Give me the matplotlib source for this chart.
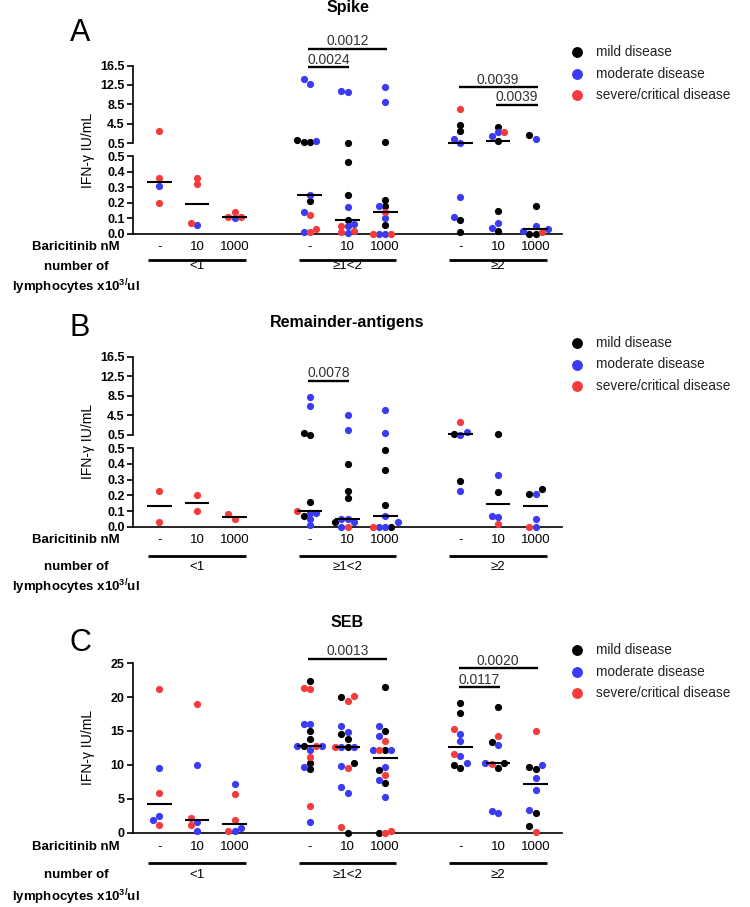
import numpy as np
import matplotlib
matplotlib.use('Agg')
import matplotlib.pyplot as plt
from matplotlib.lines import Line2D
from matplotlib.transforms import blended_transform_factory

plt.rcParams['font.family'] = ['Liberation Sans', 'DejaVu Sans']
plt.rcParams['mathtext.fontset'] = 'custom'
plt.rcParams['mathtext.rm'] = 'Liberation Sans'
plt.rcParams['mathtext.bf'] = 'Liberation Sans:bold'

# ---- data ----
doses = ['-', '10', '1000']
groups = ['<1', '\u22651<2', '\u22652']
xpos = [0, 1, 2, 4, 5, 6, 8, 9, 10]
severity = ['mild disease', 'moderate disease', 'severe/critical disease']
sev_codes = ['k', 'b', 'r']
colors = {'k': '#000000', 'b': '#3b3bf4', 'r': '#f43c3c'}

# Spike (IFN-g IU/mL), one list per column, colour code per point
spike_vals = [
    [3.0, 0.36, 0.31, 0.20],
    [0.32, 0.36, 0.06, 0.07],
    [0.10, 0.14, 0.11, 0.11],
    [13.7, 12.6, 0.65, 0.65, 0.9, 1.1, 0.25, 0.21, 0.14, 0.12, 0.015, 0.03, 0.01],
    [11.0, 11.2, 0.55, 0.46, 0.25, 0.17, 0.09, 0.05, 0.05, 0.065, 0.005, 0.01, 0.02],
    [12.1, 9.0, 0.65, 0.22, 0.18, 0.18, 0.14, 0.10, 0.06, 0.0, 0.0, 0.0, 0.0],
    [7.5, 4.2, 3.0, 1.4, 0.56, 0.24, 0.11, 0.09, 0.01],
    [3.9, 2.0, 2.7, 2.7, 0.85, 0.15, 0.07, 0.04, 0.02],
    [2.2, 1.4, 0.18, 0.05, 0.03, 0.02, 0.01, 0.0, 0.0],
]
spike_sev = ['rrbr', 'rrbr', 'brrr', 'bbkkbkbkbrbrr', 'bbkkkbkbrbbrr',
             'bbkkkbrbkbbrr', 'rkkbbbbkk', 'kbbrkkbbk', 'kbkbbbrkk']
spike_p = ['0.0012', '0.0024', '0.0039', '0.0039']
spike_pairs = [(3, 5), (3, 4), (6, 8), (7, 8)]
spike_p_y = [19.9, 16.1, 12.0, 8.35]

remainder_vals = [
    [0.23, 0.03],
    [0.20, 0.10],
    [0.05, 0.08],
    [8.2, 6.5, 0.85, 0.6, 0.155, 0.09, 0.10, 0.085, 0.07, 0.05, 0.01],
    [4.6, 1.5, 0.40, 0.23, 0.18, 0.05, 0.03, 0.05, 0.03, 0.0, 0.0],
    [5.7, 1.0, 0.49, 0.36, 0.14, 0.07, 0.03, 0.0, 0.0, 0.0, 0.0],
    [3.1, 1.2, 0.7, 0.55, 0.29, 0.23],
    [0.7, 0.33, 0.22, 0.07, 0.06, 0.02],
    [0.24, 0.21, 0.21, 0.05, 0.0, 0.0],
]
remainder_sev = ['rr', 'rr', 'rr', 'bbkkkbrbkbb', 'bbkkkbbbkrb', 'bbkkkbbbbkr',
                 'rbkbkb', 'kbkbbr', 'kbkbbr']
remainder_p = ['0.0078']
remainder_pairs = [(3, 4)]
remainder_p_y = [11.5]

seb_vals = [
    [21.15, 9.55, 5.9, 2.5, 1.8, 1.1],
    [19.0, 9.95, 2.2, 1.5, 1.1, 0.25],
    [7.1, 5.7, 1.8, 0.6, 0.25, 0.25],
    [22.4, 21.4, 21.2, 16.0, 16.0, 15.0, 13.8, 12.8, 12.8, 12.8, 12.8, 12.2, 11.2,
     10.3, 9.7, 9.4, 3.9, 1.6],
    [20.1, 20.0, 19.4, 15.7, 14.9, 14.5, 13.75, 12.7, 12.7, 12.7, 12.7, 10.3, 9.8,
     9.55, 6.65, 5.85, 0.75, 0.0],
    [21.5, 15.7, 15.0, 14.25, 13.55, 12.2, 12.2, 12.2, 12.2, 9.7, 9.2, 8.5, 7.75,
     7.25, 5.3, 0.25, 0.0, 0.0],
    [19.2, 17.7, 15.3, 14.5, 13.55, 11.6, 11.3, 10.2, 10.0, 9.6],
    [18.6, 14.25, 13.4, 12.9, 10.1, 10.2, 10.2, 9.5, 3.2, 2.9],
    [15.0, 9.35, 9.7, 9.95, 8.0, 6.25, 3.3, 2.9, 0.93, 0.1],
]
seb_sev = ['rbrbbr', 'rbrbrb', 'brrbbr', 'krrbbkkkrbbbrkbkrb', 'rkrbbkkkbbrkbrbbrk',
           'kbkbrkrbbbkrbkbrrk', 'kkrbbrbbkk', 'krkbrkbkbb', 'rkkbbbbkkr']
seb_p = ['0.0013', '0.0020', '0.0117']
seb_pairs = [(3, 5), (6, 8), (6, 7)]
seb_p_y = [25.7, 24.25, 21.45]

# ---- figure ----
W, H = 750, 907
fig = plt.figure(figsize=(7.5, 9.07), dpi=100)
fig.patch.set_facecolor('white')


def fx(px):
    return px / W


def fy(px):
    return 1 - px / H


def make_ax(top, bottom):
    ax = fig.add_axes([fx(133), fy(bottom), (562 - 133) / W, (bottom - top) / H])
    ax.set_xlim(-0.7, 10.7)
    ax.set_facecolor('none')
    for s in ['top', 'right']:
        ax.spines[s].set_visible(False)
    ax.spines['left'].set_linewidth(1.2)
    ax.spines['bottom'].set_linewidth(1.2)
    ax.set_xticks([])
    ax.tick_params(axis='y', direction='out', length=4, width=1.2, pad=2)
    return ax


def swarm(pick_ax, vals, x0, d=6.3):
    placed = []
    xs = np.zeros(len(vals))
    for i in np.argsort(vals, kind='stable'):
        ax = pick_ax(vals[i])
        xd, yd = ax.transData.transform((x0, vals[i]))
        for k in [0, -1, 1, -2, 2, -3, 3, -4, 4]:
            xc = xd + k * d
            if all((xc - px) ** 2 + (yd - py) ** 2 >= (0.92 * d) ** 2 for px, py in placed):
                break
        placed.append((xc, yd))
        xs[i] = ax.transData.inverted().transform((xc, yd))[0]
    return xs


def draw_panel(vals, sev, axes, pick_ax, letter, title, lay, pvals, pairs, p_y, p_ax):
    ref = axes[-1]
    trans = blended_transform_factory(ref.transData, fig.transFigure)
    for ci, (v, s) in enumerate(zip(vals, sev)):
        v = np.array(v)
        xs = swarm(pick_ax, v, xpos[ci])
        for code in sev_codes:
            for xi, vi, si in zip(xs, v, s):
                if si == code:
                    pick_ax(vi).scatter(xi, vi, s=27, color=colors[code], linewidths=0,
                                        zorder=3, clip_on=False)
        med = np.median(v)
        pick_ax(med).plot([xpos[ci] - 0.33, xpos[ci] + 0.33], [med, med], color='k',
                          lw=1.5, zorder=4, clip_on=False, solid_capstyle='butt')

    # significance bars
    for txt, (a, b), yv in zip(pvals, pairs, p_y):
        x1, x2 = xpos[a] - 0.05, xpos[b] + 0.05
        p_ax.plot([x1, x2], [yv, yv], color='k', lw=1.7, clip_on=False,
                  solid_capstyle='butt')
        p_ax.annotate(txt, ((x1 + x2) / 2, yv), xytext=(0, 0.5), textcoords='offset points',
                      ha='center', va='bottom', fontsize=10, color='#333333',
                      annotation_clip=False)

    # titles
    ref.text(5, fy(lay['title']), title, transform=trans, ha='center', va='center',
             fontsize=11.5, fontweight='bold')
    fig.text(fx(80), fy(lay['letter']), letter, ha='center', va='center', fontsize=22)
    fig.text(fx(88), fy(lay['ylab']), 'IFN-\u03b3 IU/mL', rotation=90, ha='center',
             va='center', fontsize=10)

    # legend
    for j, code in enumerate(sev_codes):
        yy = fy(lay['legend'] + j * 21.5)
        fig.add_artist(Line2D([fx(577)], [yy], marker='o', ms=6.8, lw=0,
                              color=colors[code], transform=fig.transFigure))
        fig.text(fx(596), yy, severity[j], ha='left', va='center', fontsize=9.8,
                 color='#222222')

    # category labels below axis
    fig.text(fx(120), fy(lay['dose']), 'Baricitinib nM', ha='right', va='center',
             fontsize=9.5, fontweight='bold')
    for i, x in enumerate(xpos):
        ref.text(x, fy(lay['dose']), doses[i % 3], transform=trans, ha='center',
                 va='center', fontsize=9.5)
    for g in range(3):
        ref.plot([4 * g - 0.3, 4 * g + 2.3], [fy(lay['bar'])] * 2, transform=trans,
                 color='k', lw=2.0, clip_on=False, solid_capstyle='butt')
        ref.text(4 * g + 1, fy(lay['group']), groups[g], transform=trans, ha='center',
                 va='center', fontsize=9.5)
    fig.text(fx(76), fy(lay['num']), 'number of', ha='center', va='center',
             fontsize=9.5, fontweight='bold')
    fig.text(fx(76), fy(lay['lym']), r'lymphocytes x10$^{\mathbf{3/}}$ul', ha='center',
             va='center', fontsize=9.5, fontweight='bold')


def broken_axes(ut, ub, lt, lb):
    up = make_ax(ut, ub)
    lo = make_ax(lt, lb)
    up.set_ylim(0.5, 16.5)
    up.spines['bottom'].set_visible(False)
    up.set_yticks([0.5, 4.5, 8.5, 12.5, 16.5], labels=['0.5', '4.5', '8.5', '12.5', '16.5'],
                  fontweight='bold', fontsize=9)
    lo.set_ylim(0, 0.5)
    lo.set_yticks([0, 0.1, 0.2, 0.3, 0.4, 0.5],
                  labels=['0.0', '0.1', '0.2', '0.3', '0.4', '0.5'],
                  fontweight='bold', fontsize=9)
    return up, lo


# Panel A
a_up, a_lo = broken_axes(65.5, 143, 156, 234)
draw_panel(spike_vals, spike_sev, [a_up, a_lo], lambda v: a_up if v > 0.5 else a_lo,
           'A', 'Spike',
           dict(title=7.5, letter=33, ylab=150, legend=52, dose=247, bar=260, group=266,
                num=266.7, lym=287.3),
           spike_p, spike_pairs, spike_p_y, a_up)

# Panel B
b_up, b_lo = broken_axes(356.7, 435, 448.3, 526.7)
draw_panel(remainder_vals, remainder_sev, [b_up, b_lo],
           lambda v: b_up if v > 0.5 else b_lo, 'B', 'Remainder-antigens',
           dict(title=323, letter=328, ylab=441.7, legend=343, dose=540, bar=556,
                group=566.7, num=566.7, lym=587.3),
           remainder_p, remainder_pairs, remainder_p_y, b_up)

# Panel C
c_ax = make_ax(663.3, 832.5)
c_ax.set_ylim(0, 25)
c_ax.set_yticks([0, 5, 10, 15, 20, 25], labels=['0', '5', '10', '15', '20', '25'],
                fontweight='bold', fontsize=9)
draw_panel(seb_vals, seb_sev, [c_ax], lambda v: c_ax, 'C', 'SEB',
           dict(title=622.7, letter=643, ylab=747, legend=650, dose=847.5, bar=862.5,
                group=875, num=875, lym=897),
           seb_p, seb_pairs, seb_p_y, c_ax)

fig.savefig('out.png', dpi=100, facecolor='white')
